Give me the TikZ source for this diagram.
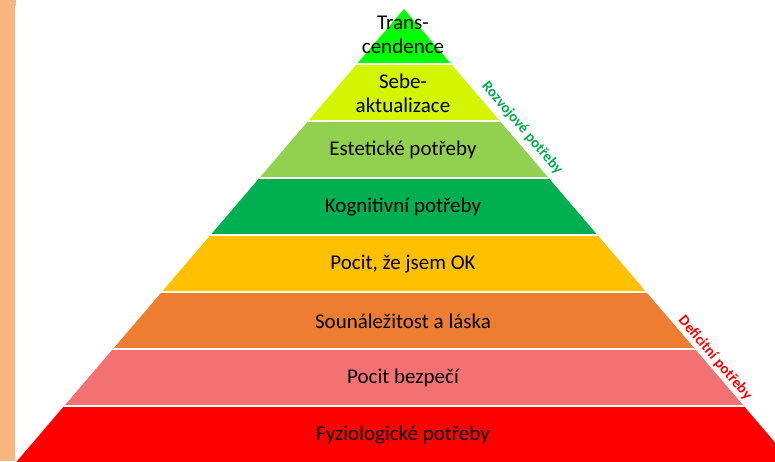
\documentclass[tikz,border=0pt]{standalone}
\usepackage{fontspec}
\setmainfont{Carlito}
\definecolor{cPeach}{HTML}{F8B67E}
\definecolor{cTop}{HTML}{00FF00}
\definecolor{cLime}{HTML}{D4F500}
\definecolor{cLightGreen}{HTML}{92D050}
\definecolor{cGreen}{HTML}{00B050}
\definecolor{cGold}{HTML}{FFC000}
\definecolor{cOrange}{HTML}{ED7D31}
\definecolor{cPink}{HTML}{F37171}
\definecolor{cRed}{HTML}{FF0000}
\tikzset{
  bandtext/.style={font=\fontsize{21}{24}\selectfont, text=black, align=center, inner sep=0pt},
  sidelabel/.style={font=\fontsize{15}{18}\selectfont\bfseries, inner sep=0pt, rotate=-49.4},
  sep/.style={white, line width=1.8pt}
}
\begin{document}
\begin{tikzpicture}[x=1pt,y=-1pt]
\useasboundingbox (0,0) rectangle (775,461);
\clip (0,0) rectangle (775,461);
\fill[white] (0,0) rectangle (775,461);
% peach strip
\fill[cPeach] (0,0) rectangle (15,461);
\fill[cPeach] (0,0) rectangle (16,6);
% pyramid
\coordinate (apex) at (404,9);
\coordinate (bl) at (9.4,470);
\coordinate (br) at (798.6,470);
\begin{scope}
  \clip (apex) -- (bl) -- (br) -- cycle;
  \fill[cTop] (0,0) rectangle (800,64);
  \fill[cLime] (0,64) rectangle (800,121);
  \fill[cLightGreen] (0,121) rectangle (800,178);
  \fill[cGreen] (0,178) rectangle (800,235);
  \fill[cGold] (0,235) rectangle (800,292);
  \fill[cOrange] (0,292) rectangle (800,349);
  \fill[cPink] (0,349) rectangle (800,406);
  \fill[cRed] (0,406) rectangle (800,480);
  \foreach \yy in {64,121,178,235,292,349,406} {
    \draw[sep] (0,\yy) -- (800,\yy);
  }
\end{scope}
% band texts
\node[bandtext] (t1) at (403,35) {Trans-\\cendence};
\node[bandtext] (t2) at (403,93) {Sebe-\\aktualizace};
\node[bandtext] (t3) at (403,150) {Estetické potřeby};
\node[bandtext] (t4) at (403,207) {Kognitivní potřeby};
\node[bandtext] (t5) at (403,264) {Pocit, že jsem OK};
\node[bandtext] (t6) at (403,321) {Sounáležitost a láska};
\node[bandtext] (t7) at (403,378) {Pocit bezpečí};
\node[bandtext] (t8) at (403,435) {Fyziologické potřeby};
% side labels
\node[sidelabel, text=cGreen] (rozv) at (522,128) {Rozvojové potřeby};
\node[sidelabel, text=cRed] (defi) at (715,358) {Deficitní potřeby};
\end{tikzpicture}
\end{document}
